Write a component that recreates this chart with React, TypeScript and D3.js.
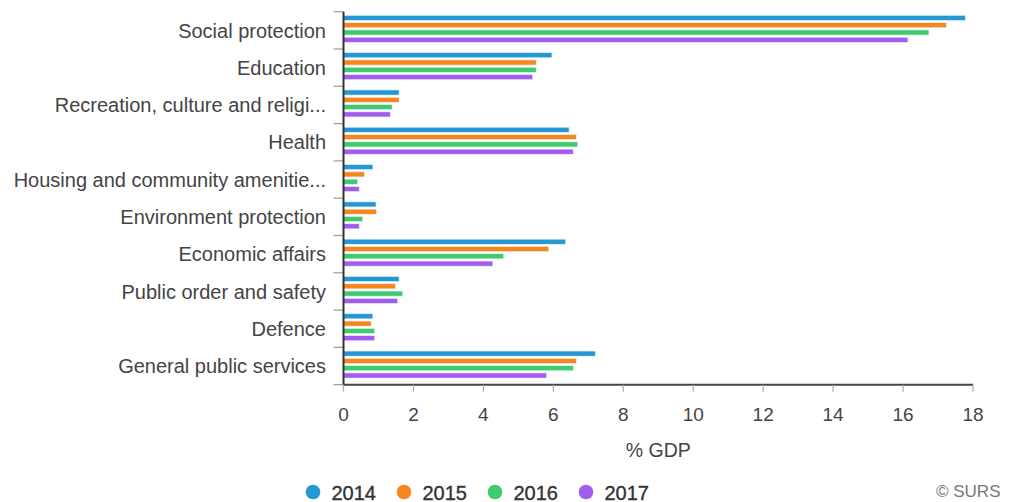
import * as d3 from "d3";

// Expenditure by function, % of GDP
const CATEGORIES = [
  "Social protection",
  "Education",
  "Recreation, culture and religi...",
  "Health",
  "Housing and community amenitie...",
  "Environment protection",
  "Economic affairs",
  "Public order and safety",
  "Defence",
  "General public services",
];
const YEARS = ["2014", "2015", "2016", "2017"];
const V2014 = [17.78, 5.96, 1.59, 6.45, 0.84, 0.93, 6.35, 1.59, 0.84, 7.2];
const V2015 = [17.24, 5.51, 1.59, 6.66, 0.6, 0.94, 5.87, 1.49, 0.79, 6.66];
const V2016 = [16.74, 5.51, 1.39, 6.7, 0.4, 0.55, 4.58, 1.69, 0.89, 6.57];
const V2017 = [16.14, 5.41, 1.34, 6.57, 0.45, 0.45, 4.27, 1.55, 0.89, 5.81];
const SERIES = [V2014, V2015, V2016, V2017];
const X_TICKS = [0, 2, 4, 6, 8, 10, 12, 14, 16, 18];
const COLORS = ["#2597d5", "#f7871d", "#3ecb6a", "#a45cf0"];

const W = 1012;
const H = 502;
const PLOT = { left: 343.5, right: 973, top: 11.7, bottom: 384.7 };
const FONT = "'Liberation Sans', Arial, sans-serif";

export default function App() {
  const x = d3.scaleLinear().domain([0, 18]).range([PLOT.left, PLOT.right]);
  const y = d3.scaleBand().domain(CATEGORIES).range([PLOT.top, PLOT.bottom]).padding(0);
  const yi = d3.scaleBand().domain(YEARS).range([3.65, 30.65]).paddingInner(0.3);
  const bandEdges = [...CATEGORIES.map((c) => y(c) ?? 0), PLOT.bottom];

  const legendX = d3.scaleLinear().domain([0, 3]).range([313, 586]);

  return (
    <div style={{ position: "fixed", left: 0, top: 0 }}>
      <svg width={W} height={H} style={{ display: "block", background: "#fff" }}>
        {/* category ticks */}
        {bandEdges.map((e, i) => (
          <line key={i} x1={PLOT.left - 10} x2={PLOT.left} y1={e} y2={e} stroke="#9a9a9a" strokeWidth={1.2} />
        ))}

        {/* bars */}
        {SERIES.map((vals, si) => (
          <g key={YEARS[si]}>
            {vals.map((v, ci) => (
              <rect
                key={ci}
                x={x(0)}
                y={(y(CATEGORIES[ci]) ?? 0) + (yi(YEARS[si]) ?? 0)}
                width={x(v) - x(0)}
                height={yi.bandwidth()}
                fill={COLORS[si]}
                stroke="#e6f4fb"
                strokeWidth={0.6}
              />
            ))}
          </g>
        ))}

        {/* axes */}
        <line x1={PLOT.left} x2={PLOT.left} y1={PLOT.top} y2={PLOT.bottom} stroke="#333" strokeWidth={2} />
        <line x1={PLOT.left} x2={PLOT.right} y1={PLOT.bottom} y2={PLOT.bottom} stroke="#444" strokeWidth={2} />
        {X_TICKS.map((t) => (
          <g key={t}>
            <line x1={x(t)} x2={x(t)} y1={PLOT.bottom} y2={PLOT.bottom + 7} stroke="#aaa" strokeWidth={1.2} />
            <text
              x={x(t)}
              y={421}
              textAnchor="middle"
              fontSize={19}
              fontFamily={"'Liberation Sans Narrow', " + FONT}
              fill="#444"
            >
              {t}
            </text>
          </g>
        ))}

        {/* category labels */}
        {CATEGORIES.map((c) => (
          <text
            key={c}
            x={326}
            y={(y(c) ?? 0) + y.bandwidth() / 2 + 7.2}
            textAnchor="end"
            fontSize={20}
            fontFamily={FONT}
            fill="#444"
          >
            {c}
          </text>
        ))}

        <text x={(PLOT.left + PLOT.right) / 2} y={457} textAnchor="middle" fontSize={19.5} fontFamily={FONT} fill="#444">
          % GDP
        </text>

        {/* legend */}
        {YEARS.map((yr, i) => (
          <g key={yr}>
            <circle cx={legendX(i)} cy={492} r={7.3} fill={COLORS[i]} />
            <text
              x={legendX(i) + 18.5}
              y={499.5}
              fontSize={20}
              fontFamily={FONT}
              fill="#333"
              stroke="#333"
              strokeWidth={0.35}
            >
              {yr}
            </text>
          </g>
        ))}

        <text x={936} y={497} fontSize={17} fontFamily={FONT} fill="#777">
          © SURS
        </text>
      </svg>
    </div>
  );
}
